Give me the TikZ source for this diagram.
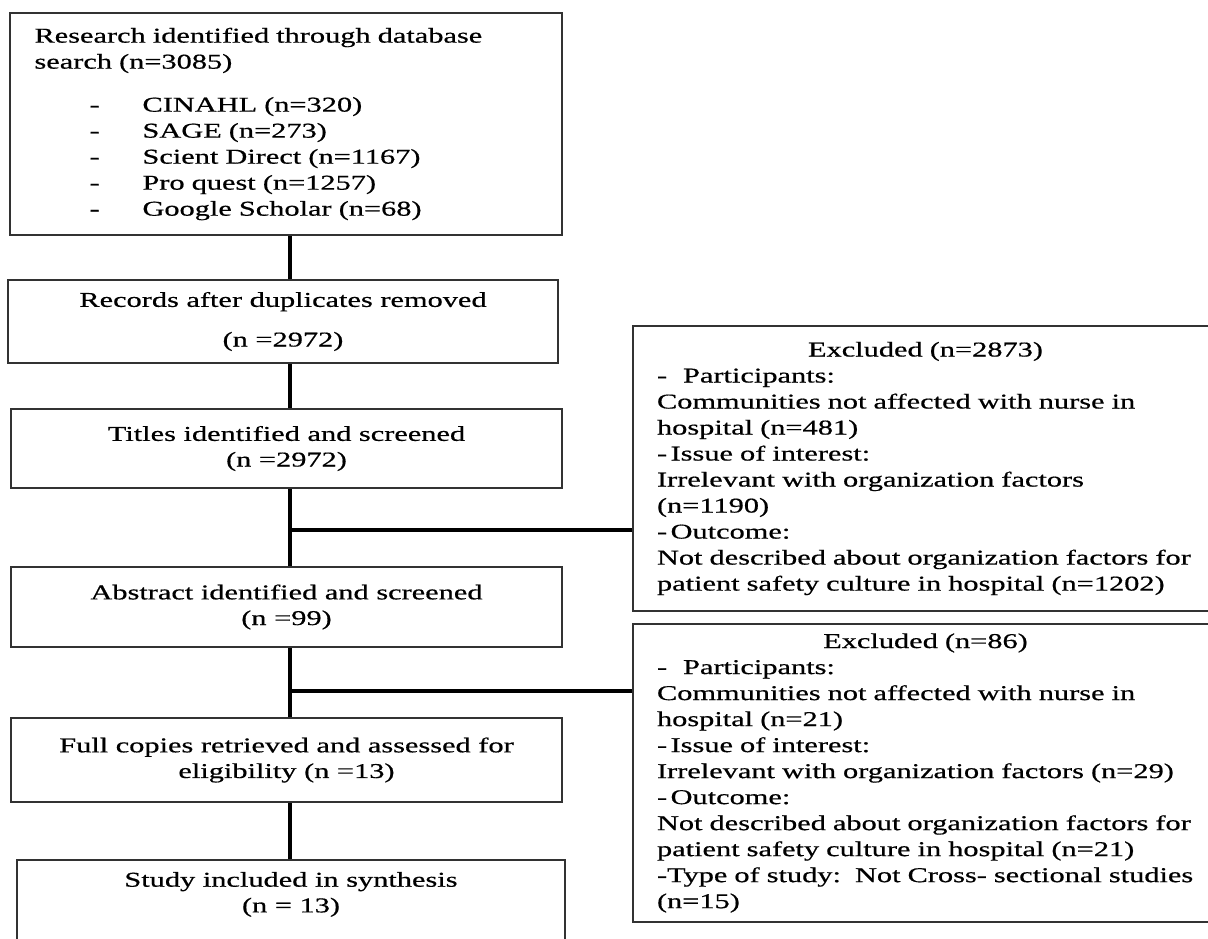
\documentclass[tikz,border=0pt]{standalone}
\usepackage{fontspec}
\setmainfont{Liberation Serif}[FakeStretch=1.44,FakeBold=0.6]
\usepackage{tikz}
\usetikzlibrary{positioning,calc}
\definecolor{boxline}{RGB}{50,50,50}
\tikzset{
  flowbox/.style={draw=boxline, line width=1.2pt, fill=white, inner sep=0pt, align=center, font=\fontsize{12}{14.6}\selectfont},
  listbox/.style={draw=boxline, line width=1.2pt, fill=white, inner xsep=0.49cm, inner ysep=0pt, text width=10.06cm, align=left, font=\fontsize{12}{14.8}\selectfont},
  exclbox/.style={draw=boxline, line width=1.2pt, fill=white, inner xsep=0.48cm, inner ysep=0pt, text width=10.74cm, align=left, font=\fontsize{12}{14.8}\selectfont},
  link/.style={draw=black, line width=2.3pt}
}
\newcommand\dbitem[1]{\makebox[2.16cm][l]{\hspace*{1.1cm}-}#1}
\newcommand\exclhead[1]{\hbox to \hsize{\hfil #1\hfil}}

\begin{document}
\begin{tikzpicture}[x=1cm,y=1cm]
  \useasboundingbox (0,0) rectangle (24.16,-18.76);
  \clip (0,0) rectangle (24.16,-18.76);

  % main column
  \node[listbox, minimum width=11.04cm, minimum height=4.44cm] (search) at (5.72,-2.48) {Research identified through database\\
    search (n=3085)\\[0.34cm]
    \dbitem{CINAHL (n=320)}\\
    \dbitem{SAGE (n=273)}\\
    \dbitem{Scient Direct (n=1167)}\\
    \dbitem{Pro quest (n=1257)}\\
    \dbitem{Google Scholar (n=68)}};
  \node[flowbox, minimum width=11.0cm, minimum height=1.66cm] (records) at (5.66,-6.43) {Records after duplicates removed\\[0.28cm](n =2972)};
  \node[flowbox, minimum width=11.02cm, minimum height=1.58cm] (titles) at (5.73,-8.97) {Titles identified and screened\\(n =2972)};
  \node[flowbox, minimum width=11.02cm, minimum height=1.6cm] (abstract) at (5.73,-12.14) {Abstract identified and screened\\(n =99)};
  \node[flowbox, minimum width=11.02cm, minimum height=1.68cm] (full) at (5.73,-15.2) {Full copies retrieved and assessed for\\eligibility (n =13)};
  \node[flowbox, anchor=north, minimum width=10.96cm, inner ysep=0.24cm, text depth=2cm] (study) at (5.82,-17.18) {Study included in synthesis\\(n = 13)};

  % exclusion boxes
  \node[exclbox, minimum height=5.7cm] (excl1) at (18.51,-9.37) {\exclhead{Excluded (n=2873)}
    -\hspace{0.32cm}Participants:\\
    Communities not affected with nurse in\\
    hospital (n=481)\\
    -\,Issue of interest:\\
    Irrelevant with organization factors\\
    (n=1190)\\
    -\,Outcome:\\
    Not described about organization factors for\\
    patient safety culture in hospital (n=1202)};
  \node[exclbox, minimum height=5.96cm] (excl2) at (18.51,-15.46) {\exclhead{Excluded (n=86)}
    -\hspace{0.32cm}Participants:\\
    Communities not affected with nurse in\\
    hospital (n=21)\\
    -\,Issue of interest:\\
    Irrelevant with organization factors (n=29)\\
    -\,Outcome:\\
    Not described about organization factors for\\
    patient safety culture in hospital (n=21)\\
    -Type of study:\ \ Not Cross- sectional studies\\
    (n=15)};

  % connectors
  \coordinate (trunk) at (5.8,0);
  \coordinate (split1) at (5.8,-10.6);
  \coordinate (split2) at (5.8,-13.82);
  \draw[link] (search.south -| trunk) -- (records.north -| trunk);
  \draw[link] (records.south -| trunk) -- (titles.north -| trunk);
  \draw[link] (titles.south -| trunk) -- (abstract.north -| trunk);
  \draw[link] (abstract.south -| trunk) -- (full.north -| trunk);
  \draw[link] (full.south -| trunk) -- (study.north -| trunk);
  \draw[link] (split1) -- (split1 -| excl1.west);
  \draw[link] (split2) -- (split2 -| excl2.west);
\end{tikzpicture}
\end{document}
